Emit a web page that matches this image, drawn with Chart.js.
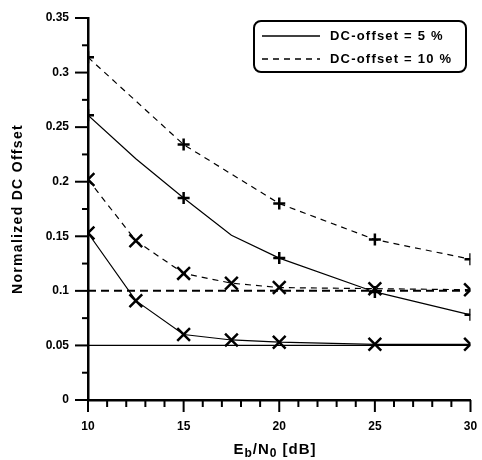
<!DOCTYPE html>
<html>
<head>
<meta charset="utf-8">
<script src="https://cdn.jsdelivr.net/npm/chart.js@4"></script>
<style>
  html, body { margin: 0; padding: 0; background: #fff; }
  #wrap { width: 482px; height: 460px; }
</style>
</head>
<body>
<div id="wrap"><canvas id="dcOffset" width="482" height="460"></canvas></div>
<script>
// Eb/N0 points (dB)
const ebnoPlus5 = [10, 12.5, 15, 17.5, 20, 25, 30];
const off5Plus = [0.261, 0.221, 0.185, 0.151, 0.130, 0.099, 0.078];
const plus5Marked = [true, false, true, false, true, true, true];

const ebnoPlus10 = [10, 15, 20, 25, 30];
const off10Plus = [0.314, 0.234, 0.180, 0.147, 0.129];

const ebnoCross = [10, 12.5, 15, 17.5, 20, 25, 30];
const off5Cross = [0.153, 0.091, 0.060, 0.055, 0.053, 0.051, 0.051];
const off10Cross = [0.202, 0.146, 0.116, 0.107, 0.103, 0.102, 0.101];

// true offset levels
const floorX = [10, 30];
const floor5 = [0.05, 0.05];
const floor10 = [0.1, 0.1];

const legendLabels = ["DC-offset = 5 %", "DC-offset = 10 %"];
const FONT = "'Liberation Sans', Arial, sans-serif";

const pts = (xs, ys) => xs.map((x, i) => ({ x, y: ys[i] }));

function series(xs, ys, dashed, style, radius) {
  return {
    data: pts(xs, ys),
    borderColor: "#000",
    borderWidth: 1.2,
    borderDash: dashed ? [6, 5] : [],
    pointStyle: style,
    pointRadius: radius,
    pointBorderWidth: 2.5,
    pointBorderColor: "#000",
    pointBackgroundColor: "#000",
    fill: false,
    tension: 0
  };
}

// minor ticks, axis titles and the legend box
const decorPlugin = {
  id: "decor",
  afterDraw(chart) {
    const ctx = chart.ctx;
    const xs = chart.scales.x, ys = chart.scales.y;
    const area = chart.chartArea;
    ctx.save();
    ctx.strokeStyle = "#000";
    ctx.lineWidth = 2;
    for (let v = 10; v <= 30; v++) {
      const px = xs.getPixelForValue(v);
      const len = v % 5 === 0 ? 12 : 7;
      ctx.beginPath();
      ctx.moveTo(px, area.bottom);
      ctx.lineTo(px, area.bottom + len);
      ctx.stroke();
    }
    for (let k = 0; k <= 14; k++) {
      const py = ys.getPixelForValue(k * 0.025);
      const len = k % 2 === 0 ? 13 : 6;
      ctx.beginPath();
      ctx.moveTo(area.left, py);
      ctx.lineTo(area.left - len, py);
      ctx.stroke();
    }

    // y title
    ctx.fillStyle = "#000";
    ctx.font = "bold 14px " + FONT;
    ctx.letterSpacing = "1.3px";
    ctx.textAlign = "center";
    ctx.textBaseline = "middle";
    ctx.translate(18, (area.top + area.bottom) / 2);
    ctx.rotate(-Math.PI / 2);
    ctx.fillText("Normalized DC Offset", 0, 0);
    ctx.setTransform(1, 0, 0, 1, 0, 0);

    // x title with subscripts
    const parts = [
      { t: "E", sub: false }, { t: "b", sub: true }, { t: "/N", sub: false },
      { t: "0", sub: true }, { t: " [dB]", sub: false }
    ];
    ctx.letterSpacing = "1px";
    let total = 0;
    parts.forEach(p => {
      ctx.font = (p.sub ? "bold 12px " : "bold 15px ") + FONT;
      p.w = ctx.measureText(p.t).width;
      total += p.w;
    });
    let cx = 275 - total / 2;
    ctx.textAlign = "left";
    ctx.textBaseline = "alphabetic";
    parts.forEach(p => {
      ctx.font = (p.sub ? "bold 12px " : "bold 15px ") + FONT;
      ctx.fillText(p.t, cx, p.sub ? 457 : 454);
      cx += p.w;
    });

    // legend box
    const bx = 254, by = 21, bw = 212, bh = 51;
    ctx.lineWidth = 2;
    ctx.beginPath();
    ctx.roundRect(bx, by, bw, bh, 7);
    ctx.fillStyle = "#fff";
    ctx.fill();
    ctx.stroke();
    ctx.letterSpacing = "1.2px";
    ctx.font = "bold 13px " + FONT;
    ctx.fillStyle = "#000";
    ctx.textBaseline = "middle";
    legendLabels.forEach((lbl, i) => {
      const ly = by + 15 + i * 23;
      ctx.lineWidth = 1.3;
      ctx.setLineDash(i === 0 ? [] : [6, 5]);
      ctx.beginPath();
      ctx.moveTo(bx + 8, ly);
      ctx.lineTo(bx + 66, ly);
      ctx.stroke();
      ctx.setLineDash([]);
      ctx.fillText(lbl, bx + 76, ly);
    });
    ctx.restore();
  }
};

new Chart(document.getElementById("dcOffset"), {
  type: "line",
  data: {
    datasets: [
      {
        data: pts(floorX, floor5),
        borderColor: "#000", borderWidth: 1.2, pointRadius: 0, fill: false
      },
      {
        data: pts(floorX, floor10),
        borderColor: "#000", borderWidth: 2, borderDash: [8, 5], pointRadius: 0, fill: false
      },
      series(ebnoPlus5, off5Plus, false, "cross", plus5Marked.map(m => m ? 6 : 0)),
      series(ebnoPlus10, off10Plus, true, "cross", 6),
      series(ebnoCross, off5Cross, false, "crossRot", 9),
      series(ebnoCross, off10Cross, true, "crossRot", 9)
    ]
  },
  options: {
    responsive: false,
    animation: false,
    layout: { padding: { top: 18, right: 3, left: 0, bottom: 0 } },
    plugins: { legend: { display: false }, tooltip: { enabled: false } },
    scales: {
      x: {
        type: "linear",
        min: 10, max: 30,
        afterFit: (s) => { s.height = 60; s.paddingLeft = 0; s.paddingRight = 0; },
        grid: { display: false, drawTicks: false },
        border: { display: true, color: "#000", width: 2.5 },
        ticks: {
          stepSize: 5, autoSkip: false, maxRotation: 0, padding: 19,
          color: "#000", font: { family: FONT, weight: "bold", size: 12 }
        }
      },
      y: {
        min: 0, max: 0.35,
        afterFit: (s) => { s.width = 88; s.paddingTop = 0; s.paddingBottom = 0; },
        grid: { display: false, drawTicks: false },
        border: { display: true, color: "#000", width: 2.5 },
        ticks: {
          stepSize: 0.05, padding: 19,
          color: "#000", font: { family: FONT, weight: "bold", size: 12 },
          callback: (v) => String(Math.round(v * 100) / 100)
        }
      }
    }
  },
  plugins: [decorPlugin]
});
</script>
</body>
</html>
